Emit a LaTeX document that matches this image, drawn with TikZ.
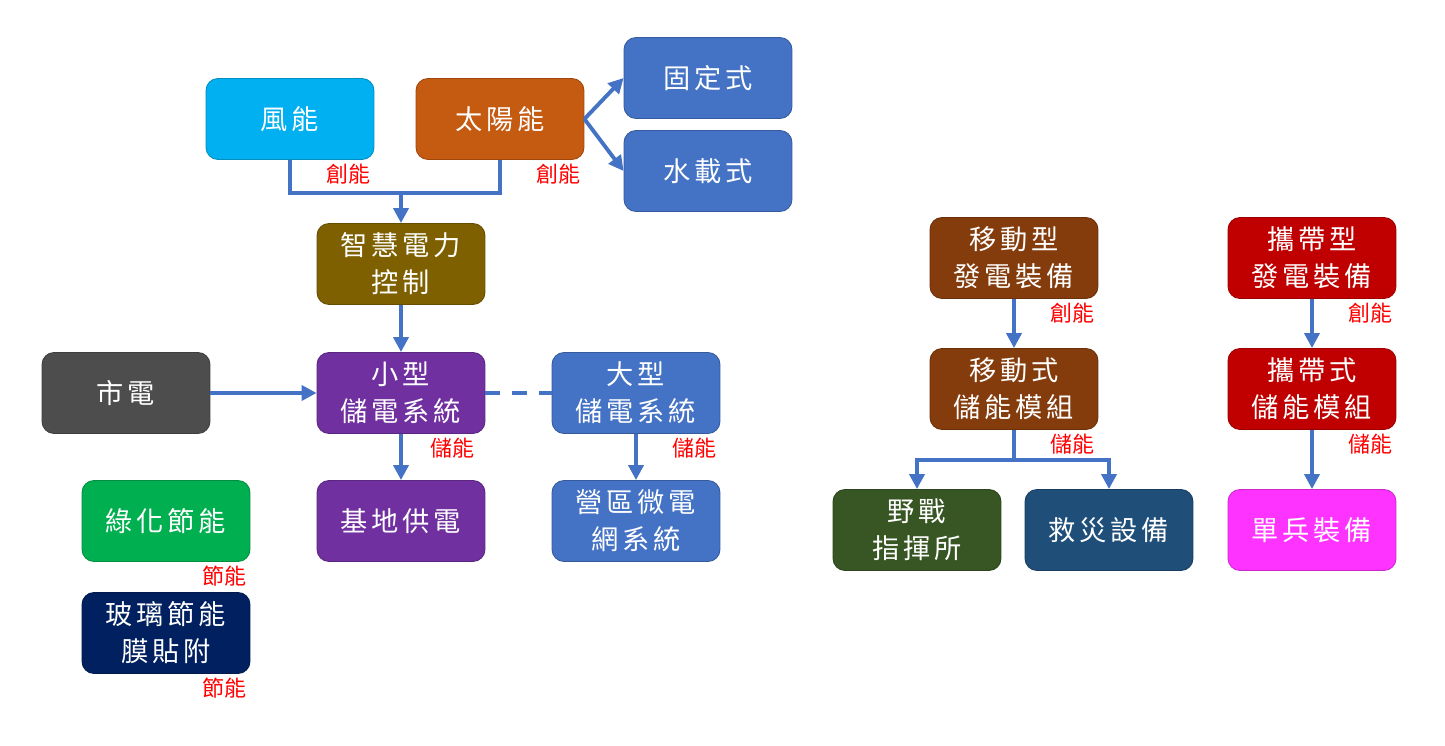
\documentclass[tikz,border=0pt]{standalone}
\usepackage{fontspec}
\newfontfamily\cjk[LetterSpace=14]{Noto Sans CJK TC}
\newfontfamily\cjktag{Noto Sans CJK TC}
\usetikzlibrary{arrows.meta}
\definecolor{linkblue}{HTML}{4472C4}
\definecolor{windcyan}{HTML}{00B0F0}
\definecolor{solarorange}{HTML}{C55A11}
\definecolor{panelblue}{HTML}{4472C4}
\definecolor{smartolive}{HTML}{7F6000}
\definecolor{gridgray}{HTML}{4D4D4D}
\definecolor{storepurple}{HTML}{7030A0}
\definecolor{greengreen}{HTML}{00B050}
\definecolor{glassnavy}{HTML}{002060}
\definecolor{mobilebrown}{HTML}{843C0C}
\definecolor{fieldgreen}{HTML}{375623}
\definecolor{rescueblue}{HTML}{1F4E79}
\definecolor{carryred}{HTML}{C00000}
\definecolor{soldierpink}{HTML}{FF33FF}

\begin{document}
\begin{tikzpicture}[x=0.02cm,y=-0.02cm,
    box/.style={rounded corners=0.24cm,minimum width=3.36cm,minimum height=1.62cm,
        inner sep=0pt,align=center,text=white,fill=#1,draw=#1!80!black,line width=0.5pt,
        font=\cjk\fontsize{15.5}{21}\selectfont},
    tag/.style={anchor=north east,inner sep=1pt,text=red,font=\cjktag\fontsize{12.5}{14}\selectfont},
    link/.style={draw=linkblue,line width=2.2pt},
    flow/.style={link,-{Triangle[length=0.3cm,width=0.3cm]}}]
    \useasboundingbox (0,0) rectangle (1445,746);

    % left part
    \node[box=windcyan] (wind) at (290,119) {風能};
    \node[box=solarorange] (solar) at (500,119) {太陽能};
    \node[box=panelblue] (fixed) at (708,78) {固定式};
    \node[box=panelblue] (water) at (708,171) {水載式};
    \node[box=smartolive] (smart) at (401,264) {智慧電力\\控制};
    \node[box=gridgray] (grid) at (126,393) {市電};
    \node[box=storepurple] (small) at (401,393) {小型\\儲電系統};
    \node[box=panelblue] (large) at (636,393) {大型\\儲電系統};
    \node[box=storepurple] (base) at (401,521) {基地供電};
    \node[box=panelblue] (camp) at (636,521) {營區微電\\網系統};
    \node[box=greengreen] (green) at (166,521) {綠化節能};
    \node[box=glassnavy] (glass) at (166,633) {玻璃節能\\膜貼附};

    \node[tag] (windtag) at ([xshift=-1pt,yshift=-1pt]wind.south east) {創能};
    \node[tag] (solartag) at ([xshift=-1pt,yshift=-1pt]solar.south east) {創能};
    \node[tag] (smalltag) at ([xshift=-5pt,yshift=-1pt]small.south east) {儲能};
    \node[tag] (largetag) at ([xshift=-1pt,yshift=-1pt]large.south east) {儲能};
    \node[tag] (greentag) at ([xshift=-1pt,yshift=-1pt]green.south east) {節能};
    \node[tag] (glasstag) at ([xshift=-1pt,yshift=-1pt]glass.south east) {節能};

    \coordinate (merge) at (401,193);
    \draw[link] (wind.south) |- (merge) -| (solar.south);
    \draw[flow] (merge) -- (smart.north);
    \draw[flow] (solar.east) -- (fixed.west);
    \draw[flow] (solar.east) -- (water.west);
    \draw[flow] (smart.south) -- (small.north);
    \draw[flow] (grid.east) -- (small.west);
    \draw[link,dash pattern=on 0.3cm off 0.24cm] (small.east) -- (large.west);
    \draw[flow] (small.south) -- (base.north);
    \draw[flow] (large.south) -- (camp.north);

    % right part
    \node[box=mobilebrown] (mgen) at (1014,258) {移動型\\發電裝備};
    \node[box=mobilebrown] (mstore) at (1014,389) {移動式\\儲能模組};
    \node[box=fieldgreen] (field) at (917,530) {野戰\\指揮所};
    \node[box=rescueblue] (rescue) at (1109,530) {救災設備};
    \node[box=carryred] (cgen) at (1312,258) {攜帶型\\發電裝備};
    \node[box=carryred] (cstore) at (1312,389) {攜帶式\\儲能模組};
    \node[box=soldierpink] (soldier) at (1312,530) {單兵裝備};

    \node[tag] (mgentag) at ([xshift=-1pt,yshift=-1pt]mgen.south east) {創能};
    \node[tag] (mstoretag) at ([xshift=-1pt,yshift=-1pt]mstore.south east) {儲能};
    \node[tag] (cgentag) at ([xshift=-1pt,yshift=-1pt]cgen.south east) {創能};
    \node[tag] (cstoretag) at ([xshift=-1pt,yshift=-1pt]cstore.south east) {儲能};

    \coordinate (split) at (1014,460);
    \draw[flow] (mgen.south) -- (mstore.north);
    \draw[link] (mstore.south) -- (split);
    \draw[flow] (split) -| (field.north);
    \draw[flow] (split) -| (rescue.north);
    \draw[flow] (cgen.south) -- (cstore.north);
    \draw[flow] (cstore.south) -- (soldier.north);
\end{tikzpicture}
\end{document}
